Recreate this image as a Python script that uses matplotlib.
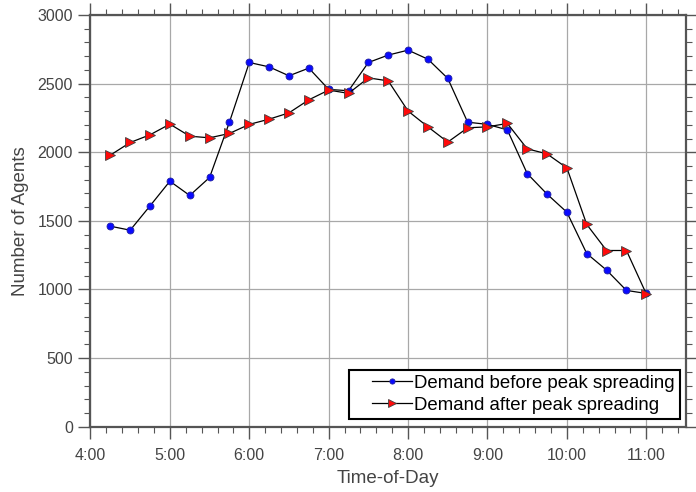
import matplotlib.pyplot as plt
from matplotlib.ticker import MultipleLocator, FuncFormatter
from matplotlib.legend_handler import HandlerLine2D
import numpy as np

plt.rcParams['font.family'] = ['Liberation Sans', 'DejaVu Sans']

# time of day in hours, 15-minute steps from 4:15 to 11:00
hours = np.arange(4.25, 11.01, 0.25)

before = [1461, 1432, 1609, 1789, 1685, 1816, 2219, 2654, 2622, 2557,
          2613, 2458, 2448, 2654, 2708, 2744, 2678, 2538, 2219, 2203,
          2163, 1845, 1695, 1563, 1262, 1141, 993, 971]
after = [1979, 2071, 2127, 2205, 2117, 2105, 2137, 2203, 2241, 2287,
         2382, 2453, 2429, 2542, 2520, 2300, 2185, 2074, 2178, 2185,
         2210, 2025, 1988, 1886, 1474, 1284, 1284, 968]

fig = plt.figure(figsize=(6.96, 4.92), dpi=100)
ax = fig.add_axes([0.130, 0.1327, 0.8556, 0.8368])

l1, = ax.plot(hours, before, '-', color='black', lw=0.9, marker='o', ms=5,
              mfc='#0a0aff', mec='#2020a0', mew=0.6, label='Demand before peak spreading')
l2, = ax.plot(hours, after, '-', color='black', lw=0.9, marker='>', ms=7,
              mfc='#ff0a0a', mec='#404040', mew=0.6, label='Demand after peak spreading')

ax.set_xlim(4, 11.5)
ax.set_ylim(0, 3000)
ax.xaxis.set_major_locator(MultipleLocator(1))
ax.xaxis.set_minor_locator(MultipleLocator(0.2))
ax.yaxis.set_major_locator(MultipleLocator(500))
ax.yaxis.set_minor_locator(MultipleLocator(100))
ax.xaxis.set_major_formatter(FuncFormatter(lambda v, p: '%d:00' % round(v)))

ax.grid(True, which='major', color='#a8a8a8', lw=0.9)
ax.set_axisbelow(True)

for s in ax.spines.values():
    s.set_color('#555555')
    s.set_linewidth(1.6)

ax.tick_params(which='both', direction='out', top=True, right=True,
               color='#555555', labelcolor='#444444', labelsize=11.5)
ax.tick_params(which='major', length=8.5, width=1)
ax.tick_params(which='minor', length=4, width=0.8)
ax.tick_params(axis='x', which='major', pad=7)
ax.tick_params(axis='y', which='major', pad=4)

ax.set_xlabel('Time-of-Day', fontsize=13.5, color='#444444', labelpad=5)
ax.set_ylabel('Number of Agents', fontsize=13.5, color='#444444', labelpad=6)

hm = {l1: HandlerLine2D(xpad=0.95), l2: HandlerLine2D(xpad=0.95)}
leg = ax.legend(loc='lower right', bbox_to_anchor=(0.990, 0.0187), borderaxespad=0,
                fontsize=13.4, fancybox=False, framealpha=1, handlelength=3.1,
                handletextpad=0.12, labelspacing=0.27, borderpad=0.28,
                markerscale=0.75, handler_map=hm)
leg.get_frame().set_edgecolor('black')
leg.get_frame().set_linewidth(1.5)

fig.savefig('out.png', dpi=100)
